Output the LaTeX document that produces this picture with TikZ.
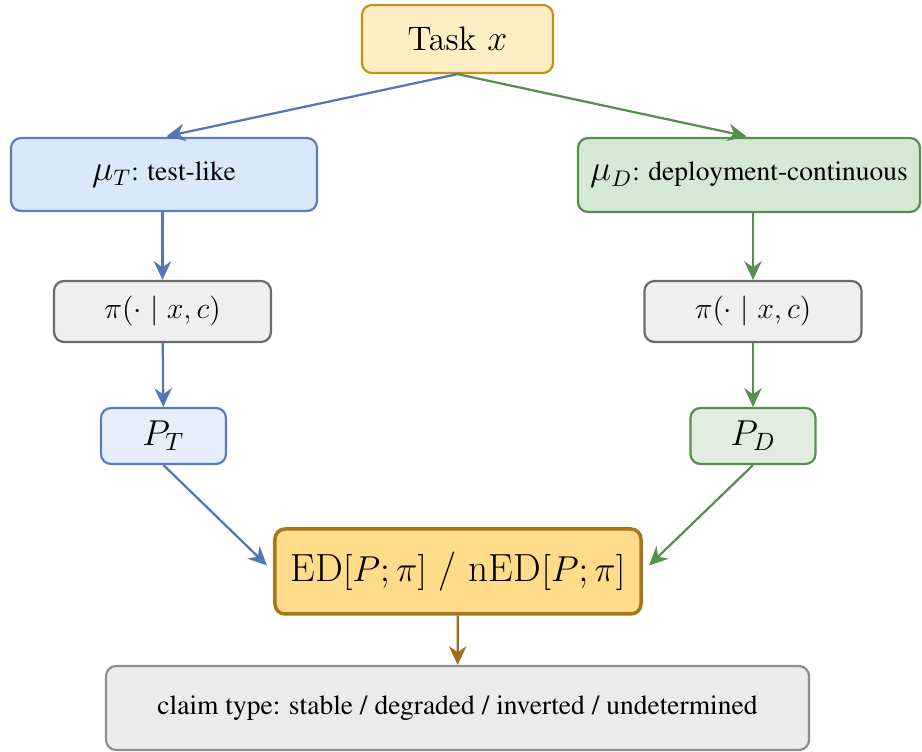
\documentclass[tikz,border=0pt]{standalone}
\usepackage[T1]{fontenc}
\usepackage{fontspec}
\newcommand{\timesfam}{\usefont{T1}{ptm}{m}{n}}
\newcommand{\bigmath}[1]{{\fontsize{13.5}{15}\selectfont$#1$}}
\usetikzlibrary{arrows.meta}
\definecolor{taskfill}{HTML}{FDEEC4}
\definecolor{taskdraw}{HTML}{C4931A}
\definecolor{bluefill}{HTML}{DAE8FC}
\definecolor{bluedraw}{HTML}{5B7DBF}
\definecolor{bluearrow}{HTML}{5475B8}
\definecolor{greenfill}{HTML}{D5E8D4}
\definecolor{greendraw}{HTML}{55904C}
\definecolor{grayfill}{HTML}{EFEFEF}
\definecolor{graydraw}{HTML}{6B6B6B}
\definecolor{pbluefill}{HTML}{E6EEF9}
\definecolor{pgreenfill}{HTML}{E1EEDF}
\definecolor{edfill}{HTML}{FFDB8A}
\definecolor{eddraw}{HTML}{A8741E}
\definecolor{claimfill}{HTML}{EBEBEB}
\definecolor{claimdraw}{HTML}{8C8C8C}
\definecolor{brownarrow}{HTML}{A06C1C}
\tikzset{
  box/.style={rounded corners=4pt, line width=0.9pt, inner sep=0pt, align=center},
  taskbox/.style={box, draw=taskdraw, fill=taskfill, minimum width=76.4pt, minimum height=27.2pt, font=\fontsize{13.6}{16}\selectfont},
  mutbox/.style={box, draw=bluedraw, fill=bluefill, minimum width=122.4pt, minimum height=29.2pt, font=\fontsize{11}{13}\selectfont},
  mudbox/.style={box, draw=greendraw, fill=greenfill, minimum width=136.8pt, minimum height=29.6pt, font=\fontsize{11}{13}\selectfont},
  pibox/.style={box, draw=graydraw, fill=grayfill, minimum width=86.8pt, minimum height=24.4pt, font=\fontsize{12.9}{15}\selectfont},
  ptbox/.style={box, draw=bluedraw, fill=pbluefill, minimum width=50pt, minimum height=22.4pt, font=\fontsize{14}{16}\selectfont},
  pdbox/.style={box, draw=greendraw, fill=pgreenfill, minimum width=50pt, minimum height=22.4pt, font=\fontsize{14}{16}\selectfont},
  edbox/.style={box, line width=1.4pt, draw=eddraw, fill=edfill, minimum width=146.4pt, minimum height=34pt, font=\fontsize{15.7}{18}\selectfont},
  claimbox/.style={box, draw=claimdraw, fill=claimfill, minimum width=281.2pt, minimum height=33.6pt, font=\fontsize{11}{13}\selectfont},
  conn/.style={line width=0.9pt, -{Stealth[length=7.5pt,width=7pt,inset=2.5pt]}},
  bconn/.style={conn, draw=bluearrow},
  gconn/.style={conn, draw=greendraw},
  oconn/.style={conn, draw=brownarrow},
}
\begin{document}
\begin{tikzpicture}[x=0.4pt,y=-0.4pt]
\useasboundingbox (0,0) rectangle (922,752);
\node[taskbox] (task) at (457.5,39) {Task $x$};
\node[mutbox] (mut) at (164,174.5) {\bigmath{\mu_T}\timesfam: test-like};
\node[mudbox] (mud) at (749,175) {\bigmath{\mu_D}\timesfam: deployment-continuous};
\node[pibox] (pil) at (162.5,311.5) {$\pi(\cdot \mid x, c)$};
\node[pibox] (pir) at (753,311.5) {$\pi(\cdot \mid x, c)$};
\node[ptbox] (pt) at (163.5,436) {$P_T$};
\node[pdbox] (pd) at (753,436) {$P_D$};
\node[edbox] (ed) at (458,571.5) {$\mathrm{ED}[P;\pi]$ / $\mathrm{nED}[P;\pi]$};
\node[claimbox] (claim) at (457.5,708) {\timesfam claim type: stable / degraded / inverted / undetermined};
\draw[bconn, shorten >=1pt] (task.south) -- (mut.north);
\draw[gconn, shorten >=1pt] (task.south) -- (mud.north);
\draw[bconn] (pil.north |- mut.south) -- (pil);
\draw[bconn] (pil) -- (pt);
\draw[gconn] (pir.north |- mud.south) -- (pir);
\draw[gconn] (pir) -- (pd);
\draw[bconn, shorten >=3.5pt] (pt.south) -- (ed.west);
\draw[gconn, shorten >=3.5pt] (pd.south) -- (ed.east);
\draw[oconn] (ed) -- (claim);
\end{tikzpicture}
\end{document}
